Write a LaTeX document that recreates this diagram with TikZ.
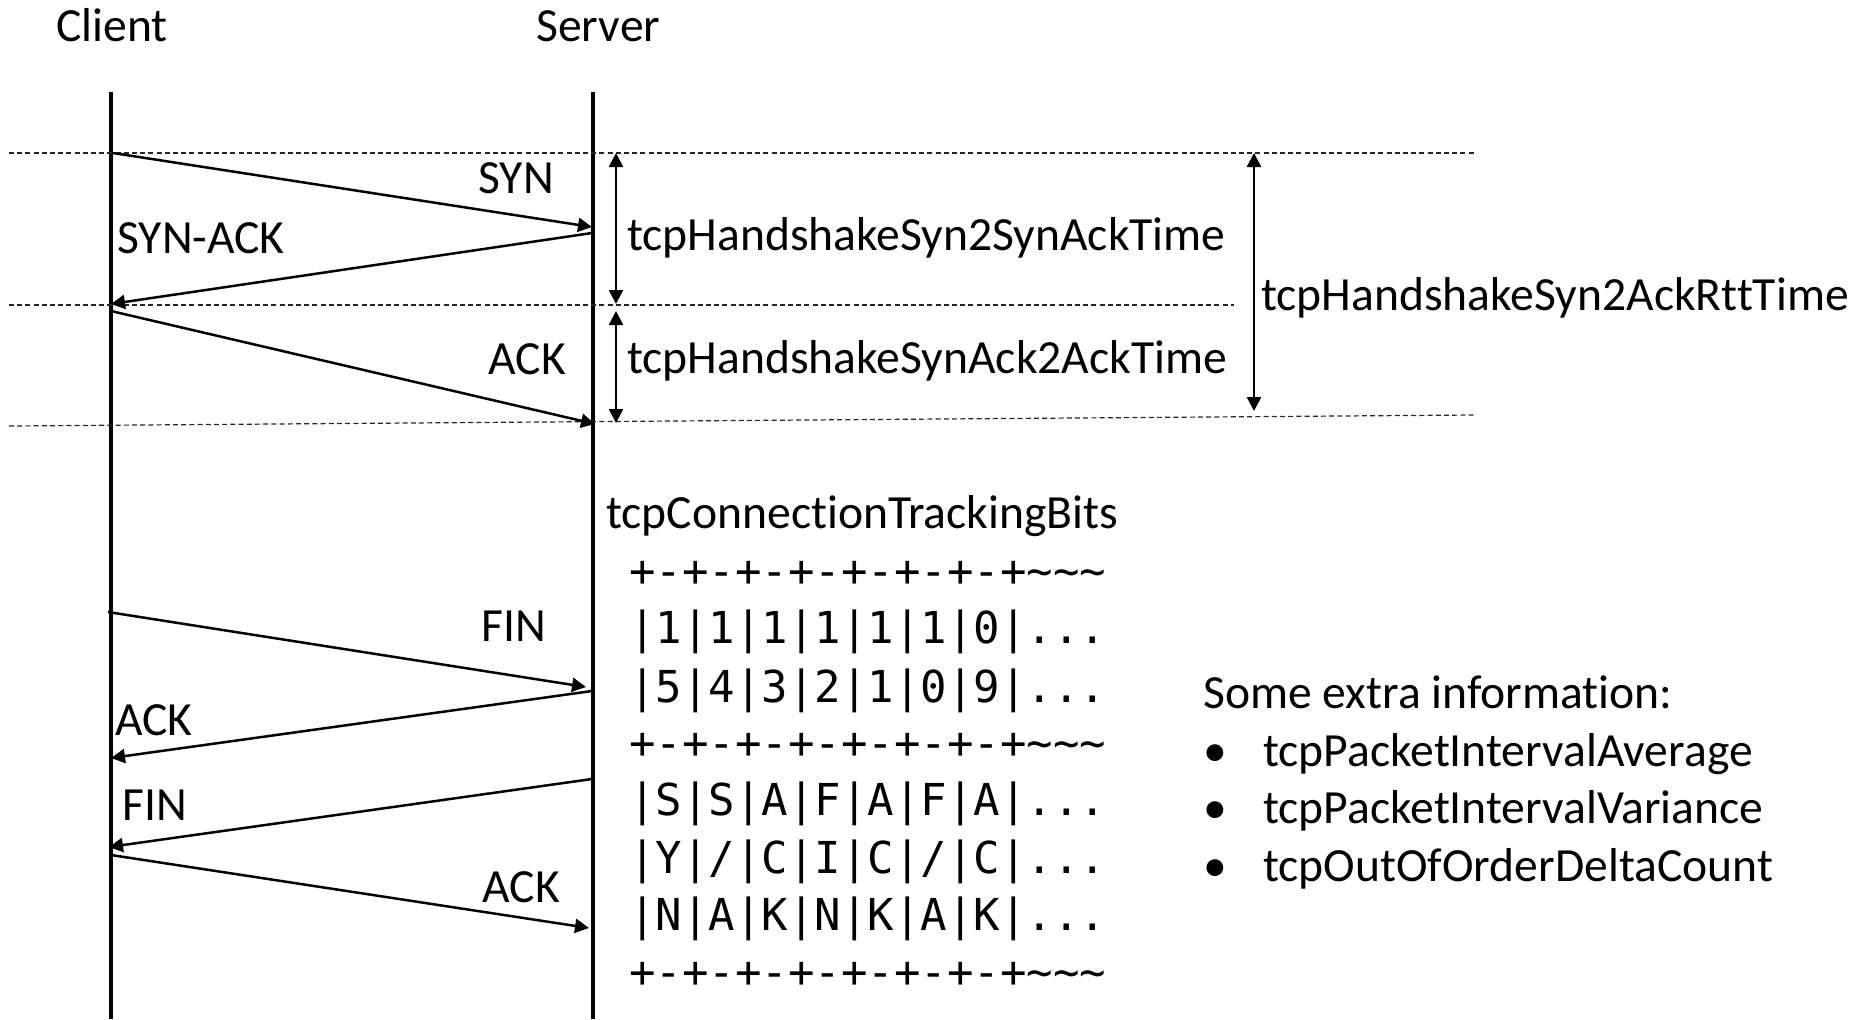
\documentclass[tikz,border=0pt]{standalone}
\usepackage{fontspec}
\setmainfont[Ligatures={NoCommon},Contextuals={NoAlternate}]{Carlito}
\setmonofont{DejaVu Sans Mono}
\usetikzlibrary{arrows.meta}
\begin{document}
\begin{tikzpicture}[x=0.5pt,y=-0.5pt,
  life/.style={line width=2pt},
  msg/.style={line width=1.25pt,-{Triangle[length=7pt,width=7pt]}},
  dim/.style={line width=1.25pt,{Triangle[length=7pt,width=7pt]}-{Triangle[length=7pt,width=7pt]}},
  sep/.style={line width=0.6pt,dash pattern=on 2.5pt off 1.6pt,black!85},
  lbl/.style={font=\fontsize{23.8}{28}\selectfont,inner sep=0pt,anchor=base west},
  bitrow/.style={font=\ttfamily\fontsize{22}{28}\selectfont,inner sep=0pt,anchor=base west},
]
\useasboundingbox (0,0) rectangle (1859,1019);

% lifelines
\coordinate (ctop) at (111,92);
\coordinate (cbot) at (111,1019);
\coordinate (stop) at (593,92);
\coordinate (sbot) at (593,1019);
\draw[life] (ctop) -- (cbot);
\draw[life] (stop) -- (sbot);
\node[lbl] (client) at (56,41) {Client};
\node[lbl] (server) at (536,41) {Server};

% separators
\coordinate (d1a) at (9,153);   \coordinate (d1b) at (1474,153);
\coordinate (d2a) at (9,305);   \coordinate (d2b) at (1234,305);
\coordinate (d3a) at (9,426);   \coordinate (d3b) at (1474,415);
\draw[sep] (d1a) -- (d1b);
\draw[sep] (d2a) -- (d2b);
\draw[sep] (d3a) -- (d3b);

% handshake
\coordinate (m1a) at (113,153); \coordinate (m1b) at (592,227);
\coordinate (m2a) at (592,233); \coordinate (m2b) at (111,304);
\coordinate (m3a) at (111,311); \coordinate (m3b) at (595,424);
\draw[msg] (m1a) -- (m1b);
\draw[msg] (m2a) -- (m2b);
\draw[msg] (m3a) -- (m3b);
\node[lbl] (syn) at (478,193) {SYN};
\node[lbl] (synack) at (117,253) {SYN-ACK};
\node[lbl] (ack1) at (488,374) {ACK};

% durations
\coordinate (t1a) at (616,153); \coordinate (t1b) at (616,304);
\coordinate (t2a) at (616,311); \coordinate (t2b) at (616,423);
\coordinate (t3a) at (1254,153); \coordinate (t3b) at (1254,411);
\draw[dim] (t1a) -- (t1b);
\draw[dim] (t2a) -- (t2b);
\draw[dim] (t3a) -- (t3b);
\node[lbl] (syn2synack) at (627,250) {tcpHandshakeSyn2SynAckTime};
\node[lbl] (synack2ack) at (627,373) {tcpHandshakeSynAck2AckTime};
\node[lbl] (rtt) at (1261,310) {tcpHandshakeSyn2AckRttTime};

% teardown
\coordinate (f1a) at (108,612); \coordinate (f1b) at (586,687);
\coordinate (f2a) at (592,691); \coordinate (f2b) at (111,758);
\coordinate (f3a) at (592,779); \coordinate (f3b) at (109,847);
\coordinate (f4a) at (111,855); \coordinate (f4b) at (589,928);
\draw[msg] (f1a) -- (f1b);
\draw[msg] (f2a) -- (f2b);
\draw[msg] (f3a) -- (f3b);
\draw[msg] (f4a) -- (f4b);
\node[lbl] (fin1) at (481,641) {FIN};
\node[lbl] (ack2) at (115,735) {ACK};
\node[lbl] (fin2) at (122,820) {FIN};
\node[lbl] (ack3) at (482,902) {ACK};

% tracking bits
\node[lbl] (ctb) at (606,528) {tcpConnec\kern0pt tionTrackingBits};
\node[bitrow] (r1) at (629,586) {+-+-+-+-+-+-+-+\textasciitilde\textasciitilde\textasciitilde};
\node[bitrow] (r2) at (629,643) {|1|1|1|1|1|1|0|...};
\node[bitrow] (r3) at (629,702) {|5|4|3|2|1|0|9|...};
\node[bitrow] (r4) at (629,758) {+-+-+-+-+-+-+-+\textasciitilde\textasciitilde\textasciitilde};
\node[bitrow] (r5) at (629,815) {|S|S|A|F|A|F|A|...};
\node[bitrow] (r6) at (629,873) {|Y|/|C|I|C|/|C|...};
\node[bitrow] (r7) at (629,930) {|N|A|K|N|K|A|K|...};
\node[bitrow] (r8) at (629,987) {+-+-+-+-+-+-+-+\textasciitilde\textasciitilde\textasciitilde};

% extra info
\node[lbl] (extra) at (1203,708) {Some extra information:};
\node[lbl] (b1) at (1203,766) {\textbullet};
\node[lbl] (b2) at (1203,823) {\textbullet};
\node[lbl] (b3) at (1203,881) {\textbullet};
\node[lbl] (i1) at (1263,766) {tcpPacketIntervalAverage};
\node[lbl] (i2) at (1263,823) {tcpPacketIntervalVariance};
\node[lbl] (i3) at (1263,881) {tcpOutOfOrderDeltaCount};
\end{tikzpicture}
\end{document}
